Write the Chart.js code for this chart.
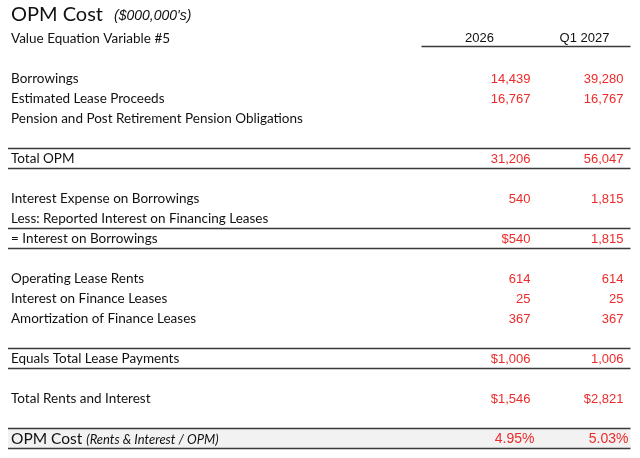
<!DOCTYPE html>
<html>
<head>
<meta charset="utf-8">
<script src="https://cdn.jsdelivr.net/npm/chart.js@4"></script>
<style>
  html, body { margin: 0; padding: 0; background: #fff; }
  #wrap { width: 640px; height: 458px; position: relative; }
</style>
</head>
<body>
<div id="wrap"><canvas id="canvas"></canvas></div>
<script>
// table contents
var columns = ['2026', 'Q1 2027'];
var rowLabels = [
	'Value Equation Variable #5', '',
	'Borrowings', 'Estimated Lease Proceeds', 'Pension and Post Retirement Pension Obligations', '',
	'Total OPM', '',
	'Interest Expense on Borrowings', 'Less: Reported Interest on Financing Leases', '= Interest on Borrowings', '',
	'Operating Lease Rents', 'Interest on Finance Leases', 'Amortization of Finance Leases', '',
	'Equals Total Lease Payments', '',
	'Total Rents and Interest', '',
	'OPM Cost'
];
var values2026 = [null, null, 14439, 16767, null, null, 31206, null, 540, null, 540, null, 614, 25, 367, null, 1006, null, 1546, null, 4.95];
var valuesQ12027 = [null, null, 39280, 16767, null, null, 56047, null, 1815, null, 1815, null, 614, 25, 367, null, 1006, null, 2821, null, 5.03];
// number format per cell: n = plain, $ = dollar, % = percent
var format2026 = ['', '', 'n', 'n', '', '', 'n', '', 'n', '', '$', '', 'n', 'n', 'n', '', '$', '', '$', '', '%'];
var formatQ12027 = ['', '', 'n', 'n', '', '', 'n', '', 'n', '', 'n', '', 'n', 'n', 'n', '', 'n', '', '$', '', '%'];
var ruledRows = [6, 10, 16, 20];   // rows boxed by lines above and below
var shadedRows = [20];

function fmt(v, f) {
	if (f === '%') return v.toFixed(2) + '%';
	var s = v.toLocaleString('en-US');
	return f === '$' ? '$' + s : s;
}

function toPoints(vals, col) {
	var out = [];
	vals.forEach(function (v, i) { if (v !== null) out.push({x: col, y: i, v: v}); });
	return out;
}

var labelFont = '13.5px Lato, "Noto Sans", sans-serif';
var numFont = '13px "Liberation Sans", Arial, sans-serif';
var numShift = [51, 39], pctShift = [55, 44];

var tablePlugin = {
	id: 'tableText',
	beforeDatasetsDraw: function (chart) {
		var ctx = chart.ctx, y = chart.scales.y, x = chart.scales.x;
		var left = 8, right = x.getPixelForValue(1) + 46;
		ctx.save();
		shadedRows.forEach(function (r) {
			ctx.fillStyle = '#f2f2f2';
			var t = y.getPixelForValue(r - 0.5), b = y.getPixelForValue(r + 0.5);
			ctx.fillRect(left, t, right - left, b - t);
		});
		ctx.strokeStyle = '#3a3a3a';
		ctx.lineWidth = 1.3;
		ruledRows.forEach(function (r) {
			[r - 0.5, r + 0.5].forEach(function (v) {
				var py = Math.round(y.getPixelForValue(v)) + 0.5;
				ctx.beginPath(); ctx.moveTo(left, py); ctx.lineTo(right, py); ctx.stroke();
			});
		});
		// header underline
		var hy = Math.round(y.getPixelForValue(0.4)) + 0.5;
		ctx.beginPath(); ctx.moveTo(x.getPixelForValue(0) - 58, hy); ctx.lineTo(right, hy); ctx.stroke();
		ctx.restore();
	},
	afterDatasetsDraw: function (chart) {
		var ctx = chart.ctx, y = chart.scales.y, x = chart.scales.x;
		ctx.save();
		ctx.textBaseline = 'middle';
		// title
		ctx.fillStyle = '#111';
		ctx.textAlign = 'left';
		ctx.font = '20px Lato, "Noto Sans", sans-serif';
		ctx.fillText('OPM Cost', 11, 15);
		var w = ctx.measureText('OPM Cost').width;
		ctx.font = 'italic 14px "Liberation Sans", Arial, sans-serif';
		ctx.fillText("($000,000's)", 11 + w + 11, 16);
		// row labels
		rowLabels.forEach(function (lab, i) {
			if (!lab) return;
			var py = y.getPixelForValue(i) + 1;
			if (lab === 'OPM Cost') {
				ctx.font = '15.5px Lato, "Noto Sans", sans-serif';
				ctx.fillText(lab, 11, py);
				var lw = ctx.measureText(lab + ' ').width;
				ctx.font = 'italic 13px Lato, "Noto Sans", sans-serif';
				ctx.fillText('(Rents & Interest / OPM)', 11 + lw, py + 1);
			} else {
				ctx.font = labelFont;
				ctx.fillText(lab, 11, py);
			}
		});
		// column headers
		ctx.font = numFont;
		ctx.textAlign = 'center';
		columns.forEach(function (c, j) {
			ctx.fillText(c, x.getPixelForValue(j), y.getPixelForValue(0));
		});
		// values
		ctx.fillStyle = '#ee2a2a';
		ctx.textAlign = 'right';
		chart.data.datasets.forEach(function (ds, di) {
			var meta = chart.getDatasetMeta(di);
			var formats = di === 0 ? format2026 : formatQ12027;
			meta.data.forEach(function (pt, k) {
				var d = ds.data[k];
				var f = formats[d.y];
				ctx.font = f === '%' ? '14px "Liberation Sans", Arial, sans-serif' : numFont;
				ctx.fillText(fmt(d.v, f), pt.x + (f === '%' ? pctShift[di] : numShift[di]), pt.y + 1);
			});
		});
		ctx.restore();
	}
};

new Chart(document.getElementById('canvas'), {
	type: 'scatter',
	data: {
		datasets: [
			{label: columns[0], data: toPoints(values2026, columns[0]), pointRadius: 0},
			{label: columns[1], data: toPoints(valuesQ12027, columns[1]), pointRadius: 0}
		]
	},
	options: {
		responsive: true,
		maintainAspectRatio: false,
		animation: false,
		layout: {padding: {left: 427, right: 3, top: 28, bottom: 10}},
		plugins: {legend: {display: false}, tooltip: {enabled: false}},
		scales: {
			x: {type: 'category', labels: columns, offset: true, display: false},
			y: {type: 'linear', reverse: true, min: -0.5, max: rowLabels.length - 0.5, display: false}
		}
	},
	plugins: [tablePlugin]
});
</script>
</body>
</html>
